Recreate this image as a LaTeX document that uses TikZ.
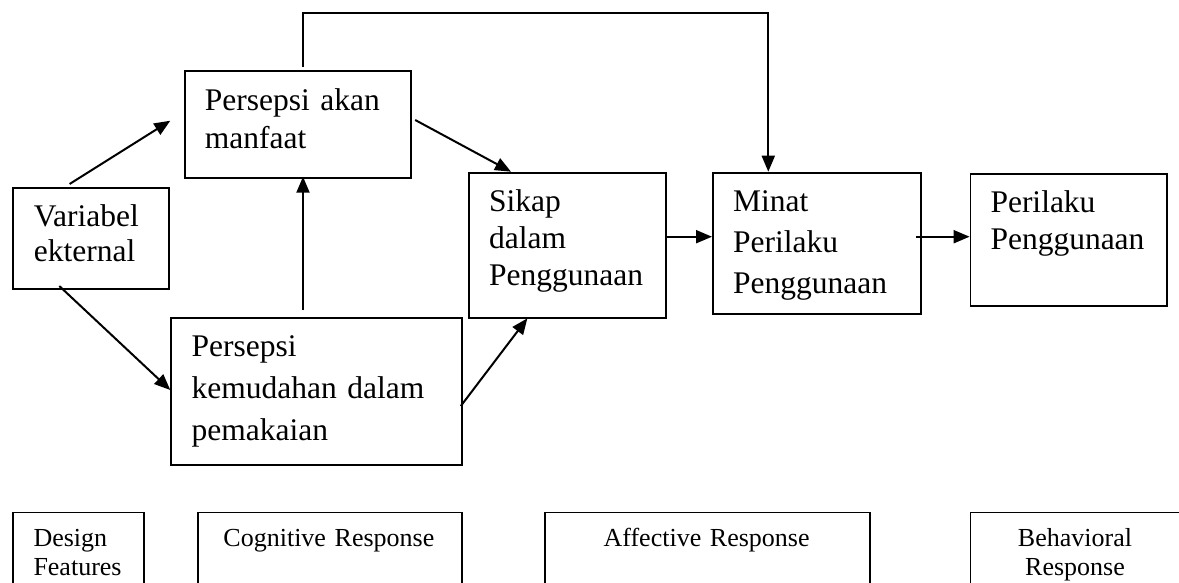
\documentclass[tikz,border=0pt]{standalone}
\usepackage{fontspec}
\setmainfont{Liberation Serif}
\usetikzlibrary{arrows.meta}
\begin{document}
\begin{tikzpicture}[x=1pt,y=-1pt,
  box/.style={draw, line width=1.8pt, inner sep=0pt, anchor=north west},
  lbl/.style={anchor=base west, inner sep=0pt, align=left, text width=300pt,
    font=\fontsize{31.5}{37.5}\selectfont},
  small/.style={anchor=base, inner sep=0pt, align=center, text width=250pt,
    font=\fontsize{26}{28.3}\selectfont},
  conn/.style={line width=2pt, -{Triangle[length=16pt,width=13pt]}},
]
\useasboundingbox (0,0) rectangle (1179,582);
\clip (0,0) rectangle (1179,582);
\fill[white] (0,0) rectangle (1179,582);

% boxes
\node[box, minimum width=156.2pt, minimum height=101.6pt] (var) at (12.2,186.7) {};
\node[box, minimum width=226.6pt, minimum height=106.7pt] (pam) at (183.7,70) {};
\node[box, minimum width=290.5pt, minimum height=147.6pt] (pkd) at (170.3,316.7) {};
\node[box, minimum width=197.3pt, minimum height=145pt] (sikap) at (467.7,171.7) {};
\node[box, minimum width=208.2pt, minimum height=141.6pt] (minat) at (712,171.7) {};
\node[box, minimum width=196.7pt, minimum height=132.3pt] (peril) at (969.6,172.7) {};

% texts
\node[lbl, font=\fontsize{31.5}{35}\selectfont] (varT) at (33.7,226.7) {Variabel\\ekternal};
\node[lbl, font=\fontsize{31.5}{38.3}\selectfont] (pamT) at (204.7,110) {Persepsi akan\\manfaat};
\node[lbl, font=\fontsize{31.5}{41.7}\selectfont] (pkdT) at (191.4,356.7) {Persepsi\\kemudahan dalam\\pemakaian};
\node[lbl, font=\fontsize{31.5}{36.7}\selectfont] (sikapT) at (489,211.7) {Sikap\\dalam\\Penggunaan};
\node[lbl, font=\fontsize{31.5}{40.8}\selectfont] (minatT) at (733,211.7) {Minat\\Perilaku\\Penggunaan};
\node[lbl, font=\fontsize{31.5}{36.7}\selectfont] (perilT) at (990.3,212.7) {Perilaku\\Penggunaan};

% bottom boxes
\node[box, minimum width=131.1pt, minimum height=100pt] (design) at (12.2,511.5) {};
\node[box, minimum width=263.8pt, minimum height=100pt] (cogn) at (197,511.5) {};
\node[box, minimum width=324.8pt, minimum height=100pt] (affe) at (544.2,511.5) {};
\node[box, minimum width=209.9pt, minimum height=100pt] (behav) at (969.6,511.5) {};
\node[small, anchor=base west, align=left, text width=120pt] (designT) at (33.3,546.7) {Design\\Features};
\node[small] (cognT) at (328.9,546.7) {Cognitive Response};
\node[small] (affeT) at (706.6,546.7) {Affective Response};
\node[small, text width=200pt] (behavT) at (1075,546.7) {Behavioral\\Response};

% connector end points
\coordinate (c1s) at (69.6,184);   \coordinate (c1e) at (170.3,120.7);
\coordinate (c2s) at (415.2,120);  \coordinate (c2e) at (511,171.7);
\coordinate (c3s) at (59.3,286);   \coordinate (c3e) at (170.3,390);
\coordinate (c4s) at (460.8,406);  \coordinate (c4e) at (527.4,318.3);
\coordinate (c5s) at (303,310);    \coordinate (c5e) at (303,176.7);
\coordinate (c6s) at (303,67);     \coordinate (c6a) at (303,13.3);
\coordinate (c6b) at (768.3,13.3); \coordinate (c6e) at (768.3,171.7);
\coordinate (c7s) at (665,236.7);  \coordinate (c7e) at (712,236.7);
\coordinate (c8s) at (916,236.7);  \coordinate (c8e) at (969.6,236.7);

\draw[conn] (c1s) -- (c1e);
\draw[conn] (c2s) -- (c2e);
\draw[conn] (c3s) -- (c3e);
\draw[conn] (c4s) -- (c4e);
\draw[conn] (c5s) -- (c5e);
\draw[conn] (c6s) -- (c6a) -- (c6b) -- (c6e);
\draw[conn] (c7s) -- (c7e);
\draw[conn] (c8s) -- (c8e);
\end{tikzpicture}
\end{document}
